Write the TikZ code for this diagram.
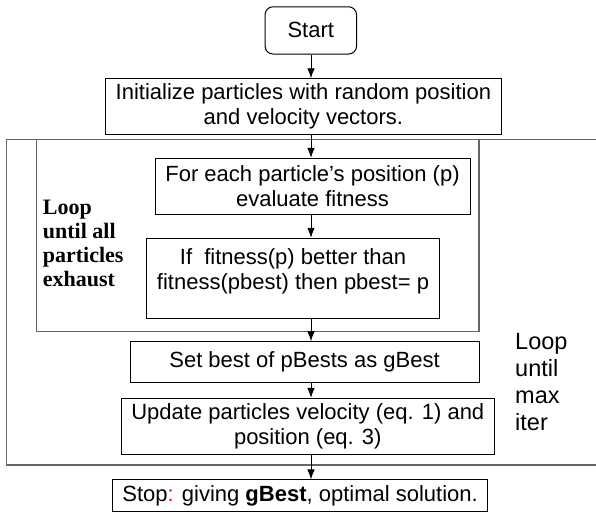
\documentclass[tikz,border=0pt]{standalone}
\usepackage{fontspec}
\setmainfont{Liberation Sans}
\newfontfamily\loopSerif{Liberation Serif}
\usetikzlibrary{arrows.meta}

\begin{document}
\begin{tikzpicture}[%%
  x=1pt,y=-1pt,%%
  boxStyle/.style={draw,line width=1pt,inner sep=0pt,align=center,%%
    font=\fontsize{22}{25}\selectfont},%%
  startStyle/.style={boxStyle,rounded corners=8pt},%%
  loopStyle/.style={draw=black!60,line width=1.3pt},%%
  arrowStyle/.style={-{Latex[length=10pt,width=7.5pt]},line width=0.9pt}%%
]
%%
%%
\pgfmathsetmacro{\xaxis}{311}
\pgfmathsetmacro{\ytop}{139.3}
\pgfmathsetmacro{\xouter}{6.8}
\pgfmathsetmacro{\xinner}{36.8}
%%
\useasboundingbox (0,0) rectangle (596,514);
\coordinate (axis) at (\xaxis,0);
%%
%% The steps.
\node[startStyle,minimum width=91.5pt,minimum height=47.3pt] (start) at (310.8,30.4) {Start};
\node[boxStyle,minimum width=395.3pt,minimum height=55.3pt] (init) at (303.4,106.4)
  {Initialize particles with random position\\and velocity vectors.};
\node[boxStyle,minimum width=315pt,minimum height=55.7pt] (fitness) at (312.5,186.2)
  {For each particle’s position (p)\\evaluate fitness};
\node[boxStyle,minimum width=293.5pt,minimum height=80pt] (pbest) at (293,278.3)
  {If\ \ fitness(p) better than\\fitness(pbest) then pbest= p\rule[-18pt]{0pt}{0pt}};
\node[boxStyle,minimum width=349pt,minimum height=41pt] (gbest) at (304.5,362.2)
  {Set best of pBests as gBest};
\node[boxStyle,minimum width=372.4pt,minimum height=55.7pt] (update) at (307.8,426.2)
  {Update particles velocity (eq. 1) and\\position (eq. 3)};
\node[boxStyle,minimum width=374.4pt,minimum height=31.7pt] (stop) at (300.1,495.8)
  {Stop{\color{red}:} giving \textbf{gBest}, optimal solution.};
%%
%% The two loops.
\begin{scope}
\clip (0,0) rectangle (596,514);
\draw[loopStyle] (\xouter,\ytop) rectangle (620,465);
\draw[loopStyle] (\xinner,\ytop) rectangle (479,331.7);
\end{scope}
%% Label the inner loop.
\node[anchor=west,align=left,inner sep=0pt,%%
  font=\loopSerif\bfseries\fontsize{22}{24}\selectfont] (innerLabel) at (42.7,243.3)
  {Loop\\until all\\particles\\exhaust};
%% Label the outer loop.
\node[anchor=west,align=left,inner sep=0pt,font=\fontsize{23.5}{27}\selectfont]
  (outerLabel) at (515,382.5) {Loop\\until\\max\\iter};
%%
%% The arrows.
\draw[arrowStyle] (axis |- start.south) -- (axis |- init.north);
\draw[arrowStyle] (axis |- init.south) -- (axis |- fitness.north);
\draw[arrowStyle] (axis |- fitness.south) -- (axis |- pbest.north);
\draw[arrowStyle] (axis |- pbest.south) -- (axis |- gbest.north);
\draw[arrowStyle] (axis |- gbest.south) -- (axis |- update.north);
\draw[arrowStyle] (axis |- update.south) -- (axis |- stop.north);
\end{tikzpicture}
\end{document}
